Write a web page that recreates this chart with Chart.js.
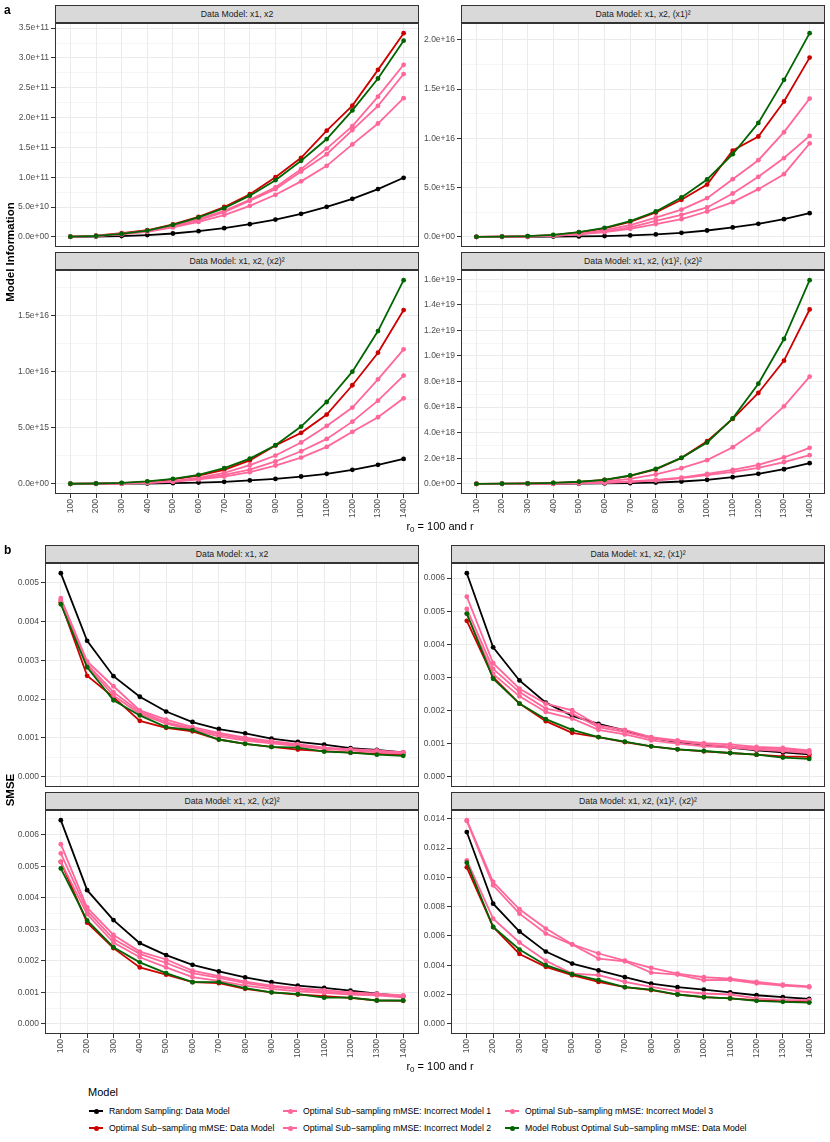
<!DOCTYPE html>
<html>
<head>
<meta charset="utf-8">
<script src="https://cdn.jsdelivr.net/npm/chart.js@4.4.1/dist/chart.umd.min.js"></script>
<style>
  body { margin: 0; background: #fff; font-family: "Liberation Sans", Arial, sans-serif; }
  #page { position: relative; width: 830px; height: 1142px; overflow: hidden; background: #fff; }
  canvas { position: absolute; }
  .strip { position: absolute; box-sizing: border-box; height: 18px; background: #d9d9d9; border: 1px solid #333;
           font-size: 8.7px; color: #1a1a1a; text-align: center; line-height: 16px; white-space: nowrap; }
  .tag { position: absolute; font-weight: bold; font-size: 12px; color: #000; }
  .ytitle { position: absolute; width: 200px; height: 14px; line-height: 14px; text-align: center; font-weight: bold;
            font-size: 11.5px; transform: rotate(-90deg); white-space: nowrap; color: #000; }
  .xtitle { position: absolute; width: 200px; text-align: center; font-size: 11px; line-height: 14px; color: #000; }
  .xtitle sub { font-size: 8px; vertical-align: -2px; }
  .legtitle { position: absolute; font-size: 11px; line-height: 14px; color: #000; }
  .legitem { position: absolute; height: 14px; line-height: 14px; font-size: 8.7px; color: #000; white-space: nowrap; }
  .legkey { position: absolute; left: 0; top: 6px; width: 14px; height: 2px; }
  .legdot { position: absolute; left: 4.5px; top: -1.5px; width: 5px; height: 5px; border-radius: 50%; }
  .legtext { position: absolute; left: 20px; top: 0; }
</style>
</head>
<body>
<div id="page"></div>
<script>
// ---------------- data ---------------- //

var rVals = [100, 200, 300, 400, 500, 600, 700, 800, 900, 1000, 1100, 1200, 1300, 1400];

var seriesNames = ["Random Sampling: Data Model",
  "Optimal Sub\u2212sampling mMSE: Data Model",
  "Optimal Sub\u2212sampling mMSE: Incorrect Model 1",
  "Optimal Sub\u2212sampling mMSE: Incorrect Model 2",
  "Optimal Sub\u2212sampling mMSE: Incorrect Model 3",
  "Model Robust Optimal Sub\u2212sampling mMSE: Data Model"];
var seriesColors = ["#000000", "#cd0000", "#ff6699", "#ff6699", "#ff6699", "#006400"];

var stripLabels = ["Data Model: x1, x2", "Data Model: x1, x2, (x1)\u00b2",
  "Data Model: x1, x2, (x2)\u00b2", "Data Model: x1, x2, (x1)\u00b2, (x2)\u00b2"];

// rows follow seriesNames order
var infoM1 = [
  [5e7, 4e8, 1.3e9, 3.0e9, 5.6e9, 9.5e9, 1.45e10, 2.12e10, 2.9e10, 3.86e10, 5.03e10, 6.37e10, 8.0e10, 9.9e10],
  [3e8, 2e9, 6e9, 1.1e10, 2.1e10, 3.35e10, 5.0e10, 7.15e10, 1.0e11, 1.325e11, 1.78e11, 2.2e11, 2.8e11, 3.415e11],
  [3e8, 1.7e9, 5e9, 1.0e10, 1.85e10, 2.95e10, 4.35e10, 6.2e10, 8.3e10, 1.135e11, 1.48e11, 1.855e11, 2.35e11, 2.885e11],
  [3e8, 1.5e9, 4.5e9, 9.5e9, 1.73e10, 2.8e10, 4.15e10, 6.05e10, 8.0e10, 1.095e11, 1.385e11, 1.79e11, 2.195e11, 2.73e11],
  [3e8, 1.3e9, 4e9, 8.5e9, 1.57e10, 2.5e10, 3.65e10, 5.2e10, 7.05e10, 9.3e10, 1.19e11, 1.55e11, 1.9e11, 2.325e11],
  [3e8, 1.7e9, 5e9, 1.05e10, 2.0e10, 3.25e10, 4.8e10, 6.9e10, 9.5e10, 1.275e11, 1.64e11, 2.12e11, 2.655e11, 3.29e11]
];
var infoM2 = [
  [0, 2e12, 8e12, 2e13, 4e13, 8e13, 1.4e14, 2.4e14, 4.1e14, 6.4e14, 9.5e14, 1.32e15, 1.79e15, 2.4e15],
  [3e12, 2e13, 6e13, 1.7e14, 4.4e14, 8.5e14, 1.52e15, 2.47e15, 3.76e15, 5.31e15, 8.76e15, 1.019e16, 1.374e16, 1.82e16],
  [2e12, 1e13, 4e13, 1.3e14, 3e14, 6.8e14, 1.18e15, 1.96e15, 2.77e15, 3.93e15, 5.85e15, 7.78e15, 1.063e16, 1.404e16],
  [2e12, 1e13, 3.5e13, 1.1e14, 2.7e14, 5.4e14, 9.5e14, 1.62e15, 2.23e15, 2.98e15, 4.4e15, 6.09e15, 8.0e15, 1.025e16],
  [2e12, 1e13, 3e13, 1e14, 2.4e14, 4.7e14, 8.1e14, 1.29e15, 1.79e15, 2.57e15, 3.52e15, 4.84e15, 6.36e15, 9.48e15],
  [3e12, 2e13, 7e13, 2e14, 4.7e14, 9.1e14, 1.59e15, 2.57e15, 4.0e15, 5.82e15, 8.39e15, 1.157e16, 1.594e16, 2.068e16]
];
var infoM3 = [
  [0, 3e12, 1.2e13, 3e13, 6e13, 1.1e14, 1.8e14, 3.0e14, 4.4e14, 6.5e14, 8.9e14, 1.25e15, 1.69e15, 2.22e15],
  [4e12, 2e13, 7e13, 1.8e14, 3.9e14, 7.4e14, 1.25e15, 2.08e15, 3.41e15, 4.54e15, 6.17e15, 8.78e15, 1.168e16, 1.548e16],
  [2e12, 1e13, 4e13, 1.1e14, 2.4e14, 5.3e14, 9.8e14, 1.66e15, 2.52e15, 3.68e15, 5.16e15, 6.79e15, 9.31e15, 1.198e16],
  [2e12, 1e13, 3e13, 9e13, 2.1e14, 4.4e14, 8.0e14, 1.27e15, 1.99e15, 2.9e15, 4.0e15, 5.54e15, 7.41e15, 9.64e15],
  [2e12, 1e13, 3e13, 8e13, 1.8e14, 3.9e14, 6.5e14, 1.04e15, 1.63e15, 2.34e15, 3.29e15, 4.63e15, 5.93e15, 7.62e15],
  [5e12, 3e13, 9e13, 2.1e14, 4.4e14, 8.0e14, 1.39e15, 2.25e15, 3.44e15, 5.1e15, 7.29e15, 9.99e15, 1.361e16, 1.814e16]
];
var infoM4 = [
  [0, 5e14, 2e15, 6e15, 1.5e16, 3e16, 5e16, 1.0e17, 1.8e17, 3.1e17, 5.2e17, 7.8e17, 1.14e18, 1.61e18],
  [2e15, 1e16, 3e16, 7e16, 1.5e17, 3.1e17, 6.2e17, 1.12e18, 2.03e18, 3.33e18, 5.07e18, 7.1e18, 9.63e18, 1.363e19],
  [5e14, 3e15, 1e16, 3e16, 8e16, 1.8e17, 3.9e17, 7.3e17, 1.22e18, 1.85e18, 2.86e18, 4.24e18, 6.06e18, 8.38e18],
  [5e14, 3e15, 1e16, 2e16, 5e16, 1.0e17, 1.8e17, 3.1e17, 4.9e17, 7.8e17, 1.09e18, 1.48e18, 2.06e18, 2.81e18],
  [5e14, 2e15, 8e15, 2e16, 4e16, 8e16, 1.6e17, 2.6e17, 4.4e17, 6.8e17, 9.4e17, 1.25e18, 1.69e18, 2.24e18],
  [2e15, 1e16, 3e16, 8e16, 1.6e17, 3.1e17, 6.5e17, 1.17e18, 2.03e18, 3.23e18, 5.12e18, 7.83e18, 1.132e19, 1.592e19]
];

var smseM1 = [
  [0.00524, 0.0035, 0.00259, 0.00206, 0.00168, 0.00141, 0.00123, 0.00112, 0.00098, 0.0009, 0.00083, 0.00074, 0.00069, 0.00063],
  [0.00449, 0.0026, 0.00205, 0.00144, 0.00126, 0.00117, 0.00096, 0.00085, 0.00077, 0.0007, 0.00066, 0.00062, 0.00059, 0.00057],
  [0.0046, 0.00297, 0.00233, 0.00171, 0.00147, 0.00128, 0.00113, 0.00101, 0.00092, 0.00084, 0.00075, 0.00071, 0.00068, 0.00063],
  [0.00455, 0.0029, 0.00218, 0.00167, 0.00141, 0.00124, 0.00109, 0.00097, 0.00089, 0.00081, 0.00073, 0.00069, 0.00065, 0.00062],
  [0.00453, 0.00286, 0.00209, 0.00162, 0.00137, 0.00121, 0.00104, 0.00093, 0.00086, 0.00079, 0.00072, 0.00068, 0.00063, 0.0006],
  [0.00444, 0.00282, 0.00197, 0.00158, 0.00128, 0.0012, 0.00096, 0.00085, 0.00077, 0.00075, 0.00065, 0.00062, 0.00057, 0.00054]
];
var smseM2 = [
  [0.00615, 0.00391, 0.00291, 0.00224, 0.00184, 0.0016, 0.0014, 0.00118, 0.00105, 0.00097, 0.00088, 0.0008, 0.00074, 0.00068],
  [0.00471, 0.00301, 0.00221, 0.00168, 0.00133, 0.0012, 0.00105, 0.00092, 0.00083, 0.00077, 0.00072, 0.00067, 0.00062, 0.0006],
  [0.00544, 0.00343, 0.00266, 0.00221, 0.00201, 0.00155, 0.00142, 0.0012, 0.0011, 0.00102, 0.00098, 0.0009, 0.00087, 0.0008],
  [0.00507, 0.00326, 0.00256, 0.00206, 0.00191, 0.0015, 0.00135, 0.00116, 0.00107, 0.00098, 0.00092, 0.00086, 0.00083, 0.00076],
  [0.00492, 0.00311, 0.00243, 0.00196, 0.00176, 0.00142, 0.00128, 0.0011, 0.001, 0.00092, 0.00088, 0.00082, 0.00078, 0.00072],
  [0.00493, 0.00296, 0.00221, 0.00174, 0.00142, 0.0012, 0.00106, 0.00092, 0.00083, 0.00078, 0.00072, 0.00067, 0.00058, 0.00054]
];
var smseM3 = [
  [0.00646, 0.00424, 0.00329, 0.00256, 0.00218, 0.00187, 0.00166, 0.00147, 0.00132, 0.00121, 0.00114, 0.00105, 0.00096, 0.00088],
  [0.00514, 0.00321, 0.0024, 0.00179, 0.00156, 0.00132, 0.00129, 0.00111, 0.001, 0.00093, 0.00088, 0.00082, 0.00074, 0.00073],
  [0.0057, 0.00369, 0.00282, 0.00229, 0.00204, 0.00169, 0.00151, 0.00134, 0.00121, 0.00113, 0.00107, 0.001, 0.00096, 0.0009],
  [0.00541, 0.00359, 0.00269, 0.00222, 0.00193, 0.00161, 0.00146, 0.00129, 0.00117, 0.00109, 0.00102, 0.00096, 0.00092, 0.00088],
  [0.00514, 0.00348, 0.00258, 0.00211, 0.00179, 0.00148, 0.00136, 0.00121, 0.00111, 0.00103, 0.00098, 0.00093, 0.0009, 0.00084],
  [0.00493, 0.00328, 0.00243, 0.00195, 0.00161, 0.00132, 0.00132, 0.00113, 0.001, 0.00094, 0.00083, 0.00083, 0.00074, 0.00074]
];
var smseM4 = [
  [0.01309, 0.0082, 0.0063, 0.00493, 0.00411, 0.00364, 0.00318, 0.00275, 0.0025, 0.00234, 0.00214, 0.00195, 0.00182, 0.0017],
  [0.01068, 0.00661, 0.00477, 0.00389, 0.00332, 0.00286, 0.0025, 0.0023, 0.002, 0.00182, 0.00173, 0.00161, 0.00155, 0.00148],
  [0.0139, 0.00968, 0.00782, 0.0065, 0.00543, 0.0048, 0.00432, 0.00382, 0.00343, 0.00318, 0.00309, 0.00286, 0.00268, 0.00255],
  [0.01385, 0.00945, 0.00752, 0.00616, 0.00541, 0.00445, 0.00427, 0.0035, 0.00336, 0.00298, 0.003, 0.00277, 0.00261, 0.0025],
  [0.01116, 0.00718, 0.00555, 0.0043, 0.00343, 0.00332, 0.00286, 0.00252, 0.00223, 0.00207, 0.002, 0.00173, 0.00164, 0.00161],
  [0.011, 0.00661, 0.00507, 0.004, 0.00339, 0.00298, 0.0025, 0.00234, 0.002, 0.00182, 0.00173, 0.00157, 0.0015, 0.00145]
];

// y tick labels (major breaks)
var infoTicks1 = [0, 5e10, 1e11, 1.5e11, 2e11, 2.5e11, 3e11, 3.5e11];
var infoTicks2 = [0, 5e15, 1e16, 1.5e16, 2e16];
var infoTicks3 = [0, 5e15, 1e16, 1.5e16];
var infoTicks4 = [0, 2e18, 4e18, 6e18, 8e18, 1e19, 1.2e19, 1.4e19, 1.6e19];
var smseTicks1 = [0, 0.001, 0.002, 0.003, 0.004, 0.005];
var smseTicks2 = [0, 0.001, 0.002, 0.003, 0.004, 0.005, 0.006];
var smseTicks3 = [0, 0.001, 0.002, 0.003, 0.004, 0.005, 0.006];
var smseTicks4 = [0, 0.002, 0.004, 0.006, 0.008, 0.010, 0.012, 0.014];

// ---------------- layout ---------------- //

var page = document.getElementById("page");
var plotH = 224;
var margin = 7;   // spare canvas room so edge tick labels are not clipped

function expLabel(v) {            // 5e10 -> "5.0e+10", 0 -> "0.0e+00"
  return v.toExponential(1).replace(/e([+-])(\d)$/, "e$10$2");
}
function decLabel(v) { return v.toFixed(3); }

var panels = [
  { data: infoM1, ticks: infoTicks1, fmt: expLabel, strip: stripLabels[0], left: 55,  top: 23,  w: 364, yw: 50, xAxis: false },
  { data: infoM2, ticks: infoTicks2, fmt: expLabel, strip: stripLabels[1], left: 461, top: 23,  w: 364, yw: 40, xAxis: false },
  { data: infoM3, ticks: infoTicks3, fmt: expLabel, strip: stripLabels[2], left: 55,  top: 270, w: 364, yw: 50, xAxis: true },
  { data: infoM4, ticks: infoTicks4, fmt: expLabel, strip: stripLabels[3], left: 461, top: 270, w: 364, yw: 40, xAxis: true },
  { data: smseM1, ticks: smseTicks1, fmt: decLabel, strip: stripLabels[0], left: 45,  top: 563, w: 374, yw: 40, xAxis: false },
  { data: smseM2, ticks: smseTicks2, fmt: decLabel, strip: stripLabels[1], left: 451, top: 563, w: 374, yw: 40, xAxis: false },
  { data: smseM3, ticks: smseTicks3, fmt: decLabel, strip: stripLabels[2], left: 45,  top: 810, w: 374, yw: 40, xAxis: true },
  { data: smseM4, ticks: smseTicks4, fmt: decLabel, strip: stripLabels[3], left: 451, top: 810, w: 374, yw: 40, xAxis: true }
];

var panelBorder = {           // ggplot style panel border
  id: "panelBorder",
  afterDraw: function (chart) {
    var a = chart.chartArea, c = chart.ctx;
    c.save();
    c.strokeStyle = "#333333";
    c.lineWidth = 1;
    c.strokeRect(Math.round(a.left) + 0.5, Math.round(a.top) + 0.5,
      Math.round(a.right - a.left) - 1, Math.round(a.bottom - a.top) - 1);
    c.restore();
  }
};

function addDiv(cls, html, css) {
  var d = document.createElement("div");
  d.className = cls;
  d.innerHTML = html;
  for (var k in css) d.style[k] = css[k];
  page.appendChild(d);
  return d;
}

function buildPanel(p) {
  var xh = p.xAxis ? 30 : 0;
  var padB = p.xAxis ? 0 : margin;
  var cv = document.createElement("canvas");
  cv.width = p.yw + p.w + margin;
  cv.height = margin + plotH + xh + padB;
  cv.style.width = cv.width + "px";
  cv.style.height = cv.height + "px";
  cv.style.left = (p.left - p.yw) + "px";
  cv.style.top = (p.top - margin) + "px";
  page.appendChild(cv);

  addDiv("strip", p.strip, { left: p.left + "px", top: (p.top - 18) + "px", width: p.w + "px" });

  // ggplot range: limits [0, max] expanded by 5%
  var dmax = 0;
  p.data.forEach(function (s) { s.forEach(function (v) { if (v > dmax) dmax = v; }); });
  var ymin = -0.05 * dmax, ymax = 1.05 * dmax;

  // minor breaks half way between majors
  var minors = [];
  var step = p.ticks[1] - p.ticks[0];
  for (var i = -1; i < p.ticks.length; i++) {
    var m = p.ticks[0] + (i + 0.5) * step;
    if (m > ymin && m < ymax) minors.push(m);
  }
  var allTicks = p.ticks.concat(minors);
  function isMajor(v) { return p.ticks.indexOf(v) >= 0; }

  var datasets = p.data.map(function (s, k) {
    return {
      label: seriesNames[k],
      data: rVals.map(function (r, j) { return { x: r, y: s[j] }; }),
      borderColor: seriesColors[k],
      backgroundColor: seriesColors[k],
      pointBackgroundColor: seriesColors[k],
      borderWidth: 1.8,
      pointRadius: 2.4,
      pointBorderWidth: 0,
      tension: 0,
      order: p.data.length - 1 - k
    };
  });

  new Chart(cv.getContext("2d"), {
    type: "line",
    data: { datasets: datasets },
    plugins: [panelBorder],
    options: {
      responsive: false,
      animation: false,
      layout: { padding: { top: margin, bottom: padB, left: 0, right: margin } },
      plugins: { legend: { display: false }, tooltip: { enabled: false } },
      scales: {
        x: {
          type: "linear",
          min: 40, max: 1460,
          bounds: "data",
          afterBuildTicks: function (s) { s.ticks = rVals.map(function (v) { return { value: v }; }); },
          afterFit: function (s) { s.height = xh; s.paddingLeft = 0; s.paddingRight = 0; },
          border: { display: false },
          grid: { color: "#ebebeb", lineWidth: 1, drawTicks: p.xAxis, tickLength: 4, tickColor: "#333333" },
          ticks: {
            display: p.xAxis, autoSkip: false, minRotation: 90, maxRotation: 90, padding: 1,
            color: "#4d4d4d", font: { family: "Liberation Sans", size: 8.5 },
            callback: function (v) { return String(v); }
          }
        },
        y: {
          type: "linear",
          min: ymin, max: ymax,
          bounds: "data",
          afterBuildTicks: function (s) { s.ticks = allTicks.map(function (v) { return { value: v }; }); },
          afterFit: function (s) { s.width = p.yw; s.paddingTop = 0; s.paddingBottom = 0; },
          border: { display: false },
          grid: {
            color: "#ebebeb",
            lineWidth: function (c) { return c.tick && isMajor(c.tick.value) ? 1 : 0.5; },
            tickLength: 4,
            tickColor: function (c) { return c.tick && isMajor(c.tick.value) ? "#333333" : "rgba(0,0,0,0)"; }
          },
          ticks: {
            padding: 2, autoSkip: false,
            color: "#4d4d4d", font: { family: "Liberation Sans", size: 8.5 },
            callback: function (v) { return isMajor(v) ? p.fmt(v) : ""; }
          }
        }
      }
    }
  });
}

panels.forEach(buildPanel);

// ---------------- titles ---------------- //

addDiv("tag", "a", { left: "4px", top: "3px" });
addDiv("tag", "b", { left: "4px", top: "543px" });
addDiv("ytitle", "Model Information", { left: (10 - 100) + "px", top: (252 - 7) + "px" });
addDiv("ytitle", "SMSE", { left: (10 - 100) + "px", top: (790 - 7) + "px" });
addDiv("xtitle", "r<sub>0</sub> = 100 and r", { left: (440 - 100) + "px", top: "519px" });
addDiv("xtitle", "r<sub>0</sub> = 100 and r", { left: (440 - 100) + "px", top: "1059px" });

// ---------------- legend ---------------- //

addDiv("legtitle", "Model", { left: "88px", top: "1085px" });
var legCols = [89, 283, 505];
var legRows = [1104, 1121];
seriesNames.forEach(function (name, k) {
  var col = Math.floor(k / 2), row = k % 2;
  var html = '<span class="legkey" style="background:' + seriesColors[k] + '">' +
    '<span class="legdot" style="background:' + seriesColors[k] + '"></span></span>' +
    '<span class="legtext">' + name + '</span>';
  addDiv("legitem", html, { left: legCols[col] + "px", top: legRows[row] + "px" });
});
</script>
</body>
</html>
